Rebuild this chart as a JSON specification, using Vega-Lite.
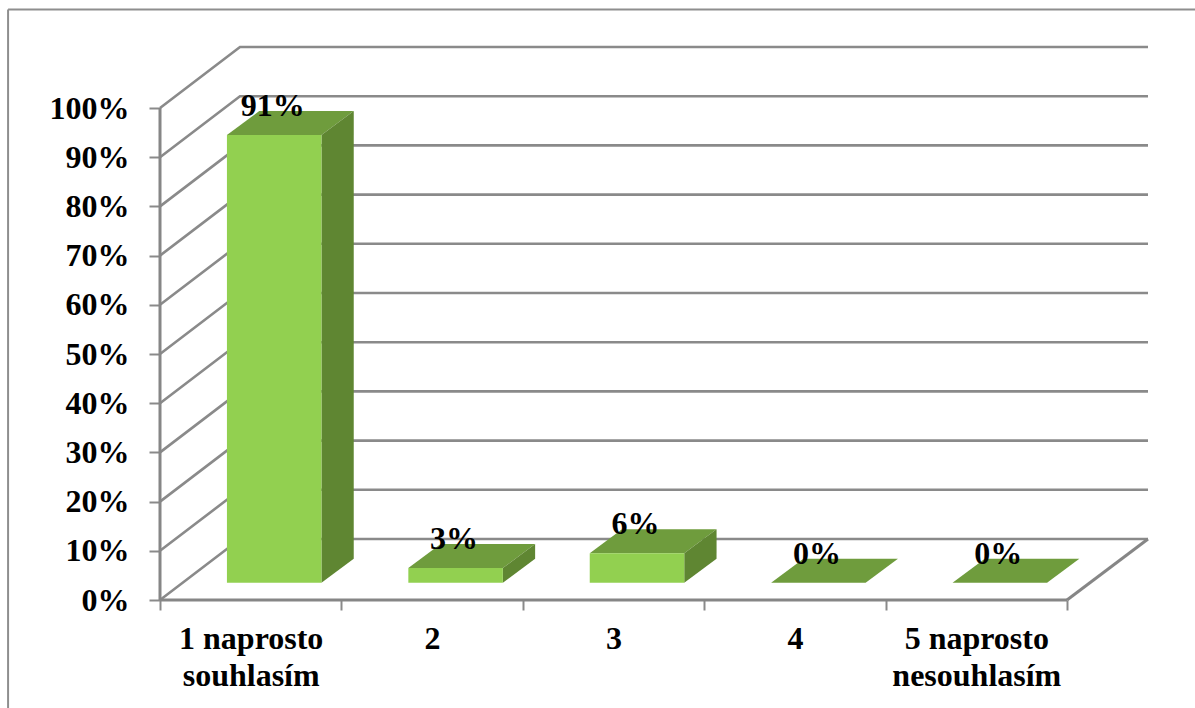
{
  "$schema": "https://vega.github.io/schema/vega-lite/v6.json",
  "autosize": {"type": "none"},
  "padding": {"left": 160, "top": 47, "right": 47, "bottom": 108},
  "width": 988,
  "height": 553,
  "background": "#ffffff",
  "view": {"stroke": null},
  "config": {
    "axis": {
      "labelFont": "Liberation Serif",
      "labelFontWeight": "bold",
      "labelFontSize": 32,
      "labelColor": "#000000",
      "tickColor": "#8a8a8a",
      "tickWidth": 2,
      "grid": false,
      "domain": false,
      "title": null
    }
  },
  "datasets": {
    "answers": [
      {"order": 0, "answer": "1 naprosto souhlasím", "value": 91},
      {"order": 1, "answer": "2", "value": 3},
      {"order": 2, "answer": "3", "value": 6},
      {"order": 3, "answer": "4", "value": 0},
      {"order": 4, "answer": "5 naprosto nesouhlasím", "value": 0}
    ],
    "levels": [
      {"level": 0}, {"level": 10}, {"level": 20}, {"level": 30}, {"level": 40}, {"level": 50},
      {"level": 60}, {"level": 70}, {"level": 80}, {"level": 90}, {"level": 100}
    ],
    "outline": [
      {"part": "value axis", "px": 0, "py": 0},
      {"part": "value axis", "px": 0, "py": 100},
      {"part": "category axis", "px": 0, "py": 0},
      {"part": "category axis", "px": 5, "py": 0},
      {"part": "floor edge", "px": 5, "py": 0},
      {"part": "floor edge", "px": 5.4465, "py": 12.4}
    ],
    "frame": [
      {"part": "left", "px": -0.8375, "py": -22},
      {"part": "left", "px": -0.8375, "py": 120},
      {"part": "top", "px": -0.8375, "py": 120},
      {"part": "top", "px": 5.71, "py": 120}
    ]
  },
  "encoding": {
    "x": {
      "field": "px",
      "type": "quantitative",
      "scale": {"domain": [0, 5.4465], "nice": false, "zero": false},
      "axis": {
        "values": [0, 0.5, 1, 1.5, 2, 2.5, 3, 3.5, 4, 4.5, 5],
        "tickSize": 10,
        "tickOpacity": {"condition": {"test": "datum.value % 1 != 0", "value": 0}, "value": 1},
        "labelAngle": 0,
        "labelPadding": 13.5,
        "labelOverlap": false,
        "labelBound": false,
        "labelFlush": false,
        "labelLineHeight": 37,
        "labelExpr": "datum.value == 0.5 ? ['1 naprosto', 'souhlasím'] : datum.value == 1.5 ? '2' : datum.value == 2.5 ? '3' : datum.value == 3.5 ? '4' : datum.value == 4.5 ? ['5 naprosto', 'nesouhlasím'] : ''"
      }
    },
    "y": {
      "field": "py",
      "type": "quantitative",
      "stack": null,
      "scale": {"domain": [0, 112.4], "nice": false, "zero": false},
      "axis": {
        "values": [0, 10, 20, 30, 40, 50, 60, 70, 80, 90, 100],
        "tickSize": 11,
        "labelPadding": 20,
        "labelExpr": "datum.value + '%'"
      }
    }
  },
  "layer": [
    {
      "data": {"name": "frame"},
      "mark": {"type": "line", "color": "#8e8e8e", "strokeWidth": 2, "clip": false},
      "encoding": {"detail": {"field": "part"}}
    },
    {
      "data": {"name": "levels"},
      "transform": [
        {"calculate": "[0, 0.441, 5.4465]", "as": "px"},
        {"calculate": "[datum.level, datum.level + 12.4, datum.level + 12.4]", "as": "py"},
        {"flatten": ["px", "py"]}
      ],
      "mark": {"type": "line", "color": "#8a8a8a", "strokeWidth": 2.6},
      "encoding": {"detail": {"field": "level"}}
    },
    {
      "data": {"name": "outline"},
      "mark": {"type": "line", "color": "#868686", "strokeWidth": 3},
      "encoding": {"detail": {"field": "part"}}
    },
    {
      "data": {"name": "answers"},
      "transform": [
        {"calculate": "datum.order + 0.369", "as": "left"},
        {"calculate": "datum.left + 0.521", "as": "right"},
        {"calculate": "3.5 + datum.value", "as": "top"},
        {"calculate": "[datum.left, datum.left + 0.178, datum.right, datum.right + 0.178]", "as": "px"},
        {"calculate": "[datum.top, datum.top, datum.top, datum.top + 4.88]", "as": "py"},
        {"calculate": "[datum.top, datum.top + 4.88, datum.top + 4.88, datum.top + 4.88]", "as": "py2"},
        {"flatten": ["px", "py", "py2"]}
      ],
      "mark": {"type": "area", "color": "#6f9c3d", "opacity": 1, "line": false},
      "encoding": {"detail": {"field": "order"}, "y2": {"field": "py2"}}
    },
    {
      "data": {"name": "answers"},
      "transform": [
        {"calculate": "datum.order + 0.369 + 0.521", "as": "right"},
        {"calculate": "[datum.right, datum.right + 0.178]", "as": "px"},
        {"calculate": "[3.5, 3.5 + 4.88]", "as": "py"},
        {"calculate": "[3.5 + datum.value, 3.5 + 4.88 + datum.value]", "as": "py2"},
        {"flatten": ["px", "py", "py2"]}
      ],
      "mark": {"type": "area", "color": "#5f8632", "opacity": 1},
      "encoding": {"detail": {"field": "order"}, "y2": {"field": "py2"}}
    },
    {
      "data": {"name": "answers"},
      "transform": [
        {"calculate": "datum.order + 0.369", "as": "px"},
        {"calculate": "datum.px + 0.521", "as": "px2"},
        {"calculate": "3.5", "as": "py"},
        {"calculate": "3.5 + datum.value", "as": "py2"}
      ],
      "mark": {"type": "rect", "color": "#92d050"},
      "encoding": {"x2": {"field": "px2"}, "y2": {"field": "py2"}}
    },
    {
      "data": {"name": "answers"},
      "transform": [
        {"calculate": "datum.order + 0.369 + 0.2605", "as": "px"},
        {"calculate": "3.5 + datum.value", "as": "py"},
        {"calculate": "datum.value + '%'", "as": "valueLabel"}
      ],
      "mark": {
        "type": "text",
        "font": "Liberation Serif",
        "fontWeight": "bold",
        "fontSize": 32,
        "color": "#000000",
        "align": "center",
        "baseline": "alphabetic",
        "dx": -1.5,
        "dy": -19
      },
      "encoding": {"text": {"field": "valueLabel"}}
    }
  ]
}
